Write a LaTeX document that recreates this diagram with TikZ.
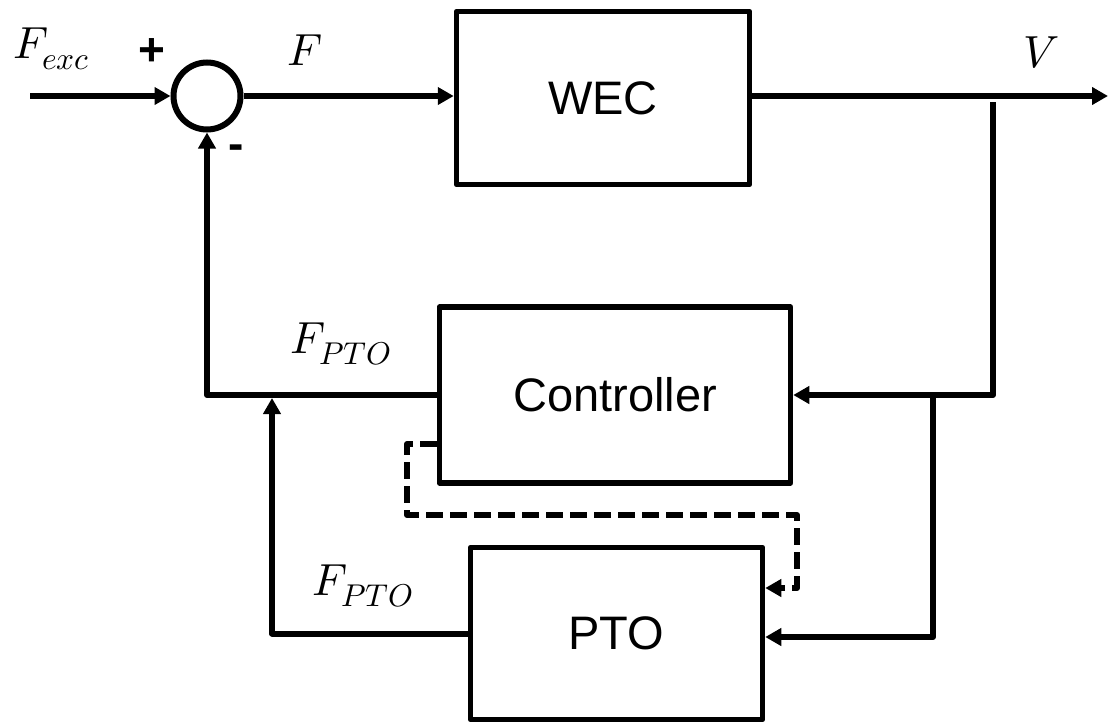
\documentclass[tikz,border=0pt]{standalone}
\usepackage{fontspec}
\usepackage{unicode-math}
\setmathfont{Latin Modern Math}
\setsansfont{Liberation Sans}
\usetikzlibrary{arrows.meta,calc}
\begin{document}
\begin{tikzpicture}[x=1pt,y=-1pt,
  blk/.style={draw, line width=5.5pt, line join=round, inner sep=0pt, font=\sffamily\fontsize{47}{52}\selectfont},
  wire/.style={line width=6pt, line join=round},
  arr/.style={wire, -{Triangle[length=16pt,width=17pt]}},
  dsh/.style={arr, dash pattern=on 17pt off 7pt},
  lbl/.style={inner sep=0pt, font=\fontsize{45}{50}\selectfont},
  sgn/.style={inner sep=0pt, font=\sffamily\bfseries\fontsize{46}{50}\selectfont}]
\useasboundingbox (0,0) rectangle (1109,726);
% blocks
\node[draw, circle, line width=6pt, minimum size=67pt, inner sep=0pt] (sum) at (207,96) {};
\node[blk, minimum width=293pt, minimum height=173pt] (wec) at (603,98) {WEC};
\node[blk, minimum width=351pt, minimum height=176pt] (ctrl) at (615,395) {Controller};
\node[blk, minimum width=292pt, minimum height=172pt] (pto) at (616.5,633.5) {PTO};
% coordinates
\coordinate (in) at (30,96);
\coordinate (out) at (1108,96);
\coordinate (vb) at (993,102);
\coordinate (vc) at (993,395);
\coordinate (pb) at (933,395);
\coordinate (pc) at (933,637);
\coordinate (pj) at (272,398);
\coordinate (d0) at (437,444);
\coordinate (d1) at (407,444);
\coordinate (d2) at (407,515);
\coordinate (d3) at (797,515);
\coordinate (d4) at (797,588);
% connectors
\draw[arr] (in) -- (sum.west);
\draw[arr] (sum.east) -- (sum.east -| wec.west);
\draw[arr] (wec.east |- sum.east) -- (out);
\draw[arr] (vb) -- (vc) -- (ctrl.east);
\draw[arr] (pb) -- (pc) -- (pc -| pto.east);
\draw[arr] (ctrl.west) -| (sum.south);
\draw[arr] (pto.west) -| (pj);
\draw[dsh] (d0) -- (d1) -- (d2) -- (d3) -- (d4) -- (d4 -| pto.east);
% labels
\node[lbl, anchor=base west] (lfexc) at (13,58) {$F_{exc}$};
\node[sgn] (lplus) at (152,52) {+};
\node[sgn] (lminus) at (236,152) {-};
\node[lbl, anchor=base west] (lf) at (287,65) {$F$};
\node[lbl, anchor=base west] (lv) at (1023,67) {$V$};
\node[lbl, anchor=base west] (lp1) at (290,353) {$F_{PTO}$};
\node[lbl, anchor=base west] (lp2) at (312,595) {$F_{PTO}$};
\end{tikzpicture}
\end{document}
